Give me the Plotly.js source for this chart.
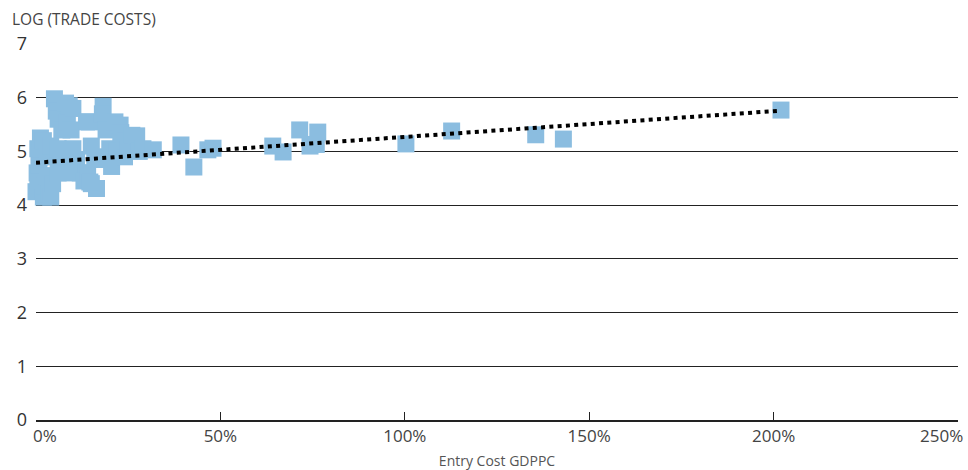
<!DOCTYPE html>
<html>
<head>
<meta charset="utf-8">
<script src="https://cdn.plot.ly/plotly-3.0.1.min.js"></script>
<style>html,body{margin:0;padding:0;background:#fff;}#chart{width:968px;height:470px;}</style>
</head>
<body>
<div id="chart"></div>
<script>
// Entry cost (% of GDP per capita)
var entryCost = [
  0, 0.5, 0.3, 0.8, 1, 0.5, 1.2, 2, 2.5, 3, 2, 3.5, 4, 4.5, 3, 4,
  5, 5.5, 6, 7, 8, 8.5, 9, 10, 9.5, 6, 7, 8, 6, 10, 11, 12, 9, 13, 14, 15,
  14.5, 15, 16, 13.7, 18.2, 18, 19, 20, 21.4, 22.8, 23, 20.5, 20, 22, 24, 24, 25, 26, 27.3, 28, 29, 31.8, 16.4, 14.6, 16,
  39.3, 42.8, 46.6, 48, 64.2, 67, 71.5, 74.3, 76.4, 76, 100.3, 112.7, 135.5, 143, 202
];
// Log of trade costs
var logTradeCosts = [
  4.25, 4.45, 4.6, 4.75, 4.9, 5.05, 5.25, 4.15, 4.35, 4.55, 5.2, 4.2, 4.15, 4.4, 4.9, 5.1,
  5.98, 5.75, 5.6, 5.4, 5.9, 5.55, 5.85, 5.8, 5.4, 5.05, 4.9, 4.7, 4.6, 5.05, 4.85, 4.6, 4.6, 4.45, 4.6, 4.4,
  5.55, 5.1, 4.9, 5.55, 5.84, 5.7, 5.4, 5.05, 5.55, 5.49, 5.35, 4.72, 4.85, 5.0, 4.9, 5.2, 5.05, 5.3, 5.29, 5.0, 5.05, 5.03, 4.31, 4.43, 4.85,
  5.12, 4.71, 5.03, 5.06, 5.10, 4.99, 5.40, 5.10, 5.36, 5.13, 5.14, 5.38, 5.31, 5.23, 5.77
];
// Linear trend end points
var trendX = [0, 202];
var trendY = [4.79, 5.76];

var xTickVals = [0, 50, 100, 150, 200, 250];
var xTickText = ['0%', '50%', '100%', '150%', '200%', '250%'];
var yTickVals = [0, 1, 2, 3, 4, 5, 6, 7];

var fontFam = '"Open Sans", "Noto Sans", sans-serif';

var traces = [
  {
    x: entryCost, y: logTradeCosts,
    type: 'scatter', mode: 'markers',
    marker: {symbol: 'square', size: 17, color: '#8bbde0', line: {width: 0}},
    cliponaxis: false, hoverinfo: 'skip'
  },
  {
    x: trendX, y: trendY,
    type: 'scatter', mode: 'lines',
    line: {color: '#000', width: 4, dash: '4px,4.3px'},
    cliponaxis: false, hoverinfo: 'skip'
  }
];

// edge tick labels drawn as annotations so they stay inside the page
var edgeLabels = [
  {text: xTickText[0], x: xTickVals[0], xanchor: 'left', xshift: -5},
  {text: xTickText[5], x: xTickVals[5], xanchor: 'right', xshift: 7}
].map(function (e) {
  return {
    text: e.text, x: e.x, xref: 'x', yref: 'paper', y: 0, yanchor: 'top', yshift: -2,
    xanchor: e.xanchor, xshift: e.xshift, showarrow: false,
    font: {size: 17, color: '#444'}
  };
});

var layout = {
  width: 968, height: 470,
  margin: {l: 36, r: 10, t: 44, b: 50},
  paper_bgcolor: '#fff', plot_bgcolor: '#fff',
  showlegend: false,
  font: {family: fontFam, color: '#333'},
  xaxis: {
    range: [0, 250],
    tickvals: xTickVals,
    ticktext: xTickText.map(function (t, i) { return (i === 0 || i === xTickText.length - 1) ? '' : t; }),
    tickfont: {size: 17, color: '#444'},
    showgrid: false, zeroline: false,
    showline: true, linecolor: '#222', linewidth: 1.5,
    ticks: 'inside', ticklen: 8, tickcolor: '#222', tickwidth: 1.3,
    title: {text: 'Entry Cost GDPPC', font: {size: 14, color: '#555'}, standoff: 10}
  },
  yaxis: {
    range: [0, 7],
    tickvals: yTickVals,
    tickfont: {size: 18, color: '#333'},
    ticklabelstandoff: 8,
    showgrid: true, gridcolor: '#222', gridwidth: 1.2,
    zeroline: false, showline: false, ticks: ''
  },
  annotations: [{
    text: 'LOG (TRADE COSTS)', xref: 'paper', yref: 'paper',
    x: -0.028, y: 1, xanchor: 'left', yanchor: 'bottom', yshift: 12,
    showarrow: false, font: {size: 15.5, color: '#444'}
  }].concat(edgeLabels)
};

Plotly.newPlot('chart', traces, layout, {displayModeBar: false, staticPlot: true});
</script>
</body>
</html>
